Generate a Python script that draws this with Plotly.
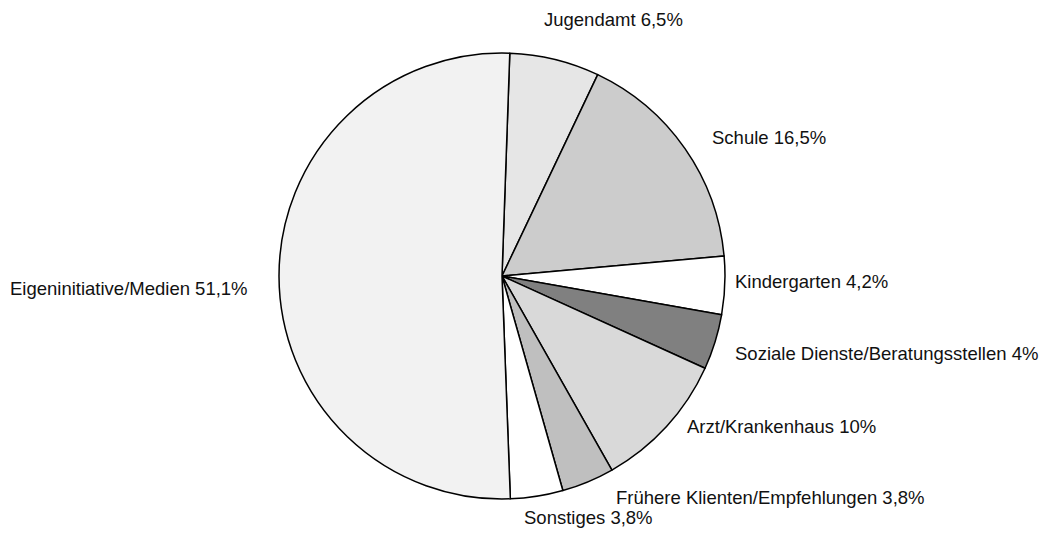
import math
import plotly.graph_objects as go

labels = ["Jugendamt", "Schule", "Kindergarten", "Soziale Dienste/Beratungsstellen",
          "Arzt/Krankenhaus", "Frühere Klienten/Empfehlungen", "Sonstiges",
          "Eigeninitiative/Medien"]
values = [6.5, 16.5, 4.2, 4.0, 10.0, 3.8, 3.8, 51.1]
value_text = ["6,5%", "16,5%", "4,2%", "4%", "10%", "3,8%", "3,8%", "51,1%"]

# styling
colors = ["#e6e6e6", "#cccccc", "#ffffff", "#808080", "#d9d9d9", "#bfbfbf",
          "#ffffff", "#f2f2f2"]
label_offsets = [(-11, -40), (27, -11), (10, -4), (20, 11), (20, 0), (28, 16),
                 (-13, 21), (-31, 12)]
rotation = 2
W, H = 1053, 533
margin = dict(l=0, r=65, t=45, b=42)
font = dict(family="Liberation Sans, Arial, sans-serif", size=18.5, color="#111111")

fig = go.Figure(go.Pie(
    labels=labels,
    values=values,
    sort=False,
    direction="clockwise",
    rotation=rotation,
    marker=dict(colors=colors, line=dict(color="black", width=1.5)),
    textinfo="none",
    hoverinfo="label+percent",
    showlegend=False,
))

# label annotations anchored at the pie edge, at each slice's mid angle
pw = W - margin["l"] - margin["r"]
ph = H - margin["t"] - margin["b"]
r_px = min(pw, ph) / 2
total = sum(values)
cum = 0.0
annotations = []
for lab, v, vt, (dx, dy) in zip(labels, values, value_text, label_offsets):
    mid = rotation + (cum + v / 2) / total * 360
    cum += v
    th = math.radians(mid)
    sx, cy = math.sin(th), math.cos(th)
    annotations.append(dict(
        x=0.5 + r_px * sx / pw, y=0.5 + r_px * cy / ph,
        xref="paper", yref="paper",
        text=f"{lab} {vt}", showarrow=False,
        xanchor="left" if sx > 0 else "right", yanchor="middle",
        xshift=dx, yshift=-dy, borderpad=0, borderwidth=0,
        font=font,
    ))

fig.update_layout(
    width=W, height=H,
    margin=margin,
    paper_bgcolor="white",
    plot_bgcolor="white",
    annotations=annotations,
)
fig.write_html("out.html")
